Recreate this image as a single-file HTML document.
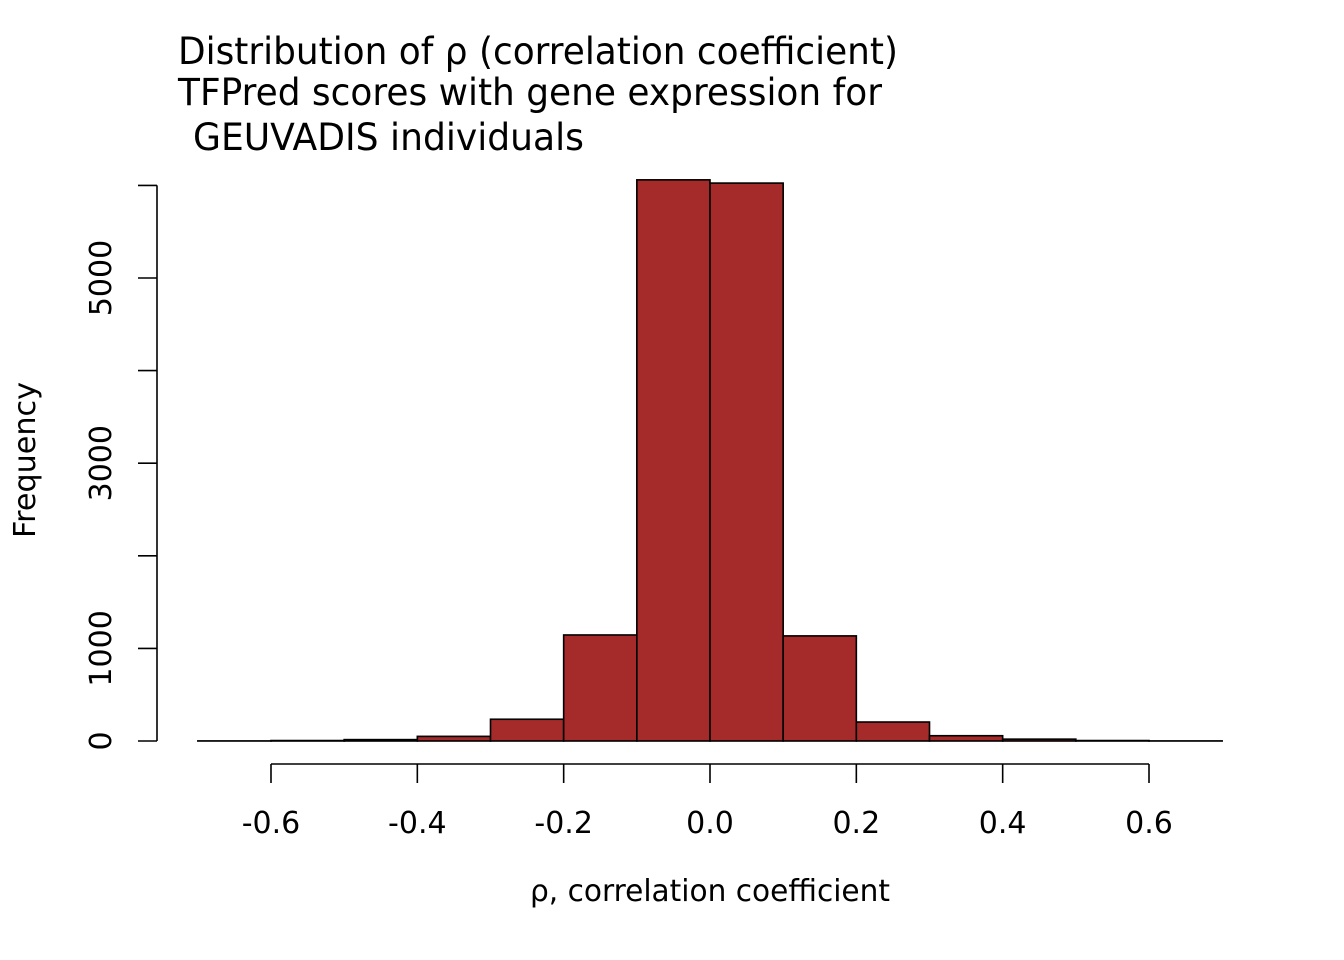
<!DOCTYPE html>
<html><head><meta charset="utf-8"><style>
html,body{margin:0;padding:0;background:#fff;}
svg{display:block;font-family:"DejaVu Sans","Liberation Sans",sans-serif;}
</style></head><body>
<svg id="chart" width="1344" height="960" xmlns="http://www.w3.org/2000/svg">
<g font-size="37" fill="#000">
<text x="178" y="64" textLength="720" lengthAdjust="spacingAndGlyphs">Distribution of ρ (correlation coefficient)</text>
<text x="178" y="105" textLength="704" lengthAdjust="spacingAndGlyphs">TFPred scores with gene expression for</text>
<text x="193" y="150" textLength="391" lengthAdjust="spacingAndGlyphs">GEUVADIS individuals</text>
</g>
<text x="530" y="901" font-size="30" textLength="360" lengthAdjust="spacingAndGlyphs">ρ, correlation coefficient</text>
<text transform="translate(35,460) rotate(-90)" text-anchor="middle" font-size="30" textLength="156" lengthAdjust="spacingAndGlyphs">Frequency</text>
<g id="bars"></g>
<g id="xaxis"></g>
<g id="yaxis"></g>
</svg>
<script>
const binEdges = [-0.7,-0.6,-0.5,-0.4,-0.3,-0.2,-0.1,0.0,0.1,0.2,0.3,0.4,0.5,0.6,0.7];
const counts = [1,5,15,50,235,1145,6060,6025,1135,205,57,20,5,1];
const xTicks = [-0.6,-0.4,-0.2,0.0,0.2,0.4,0.6];
const xTickLabels = ["-0.6","-0.4","-0.2","0.0","0.2","0.4","0.6"];
const yTicks = [0,1000,2000,3000,4000,5000,6000];
const yTickLabels = ["0","1000","","3000","","5000",""];

const NS="http://www.w3.org/2000/svg";
function X(v){return 710 + v*731.67;}
function Y(v){return 741 - v*0.0926;}
function mk(tag,attrs,parent){const e=document.createElementNS(NS,tag);for(const k in attrs)e.setAttribute(k,attrs[k]);parent.appendChild(e);return e;}

const bars=document.getElementById('bars');
counts.forEach((c,i)=>{
  const x0=X(binEdges[i]),x1=X(binEdges[i+1]);
  const r=mk('rect',{x:x0,y:Y(c),width:x1-x0,height:Y(0)-Y(c),fill:'#a52a2a',stroke:'#000','stroke-width':1.6},bars);
  
  
});

const xa=document.getElementById('xaxis');
const xl=mk('line',{x1:X(xTicks[0]),x2:X(xTicks[xTicks.length-1]),y1:764,y2:764,stroke:'#000','stroke-width':1.6},xa);


xTicks.forEach((t,i)=>{
  const tk=mk('line',{x1:X(t),x2:X(t),y1:764,y2:783,stroke:'#000','stroke-width':1.6},xa);
  
  
  const tx=mk('text',{x:X(t),y:833,'text-anchor':'middle','font-size':30},xa);
  tx.textContent=xTickLabels[i];
  
  
});

const ya=document.getElementById('yaxis');
const yl=mk('line',{x1:157,x2:157,y1:Y(yTicks[0]),y2:Y(yTicks[yTicks.length-1]),stroke:'#000','stroke-width':1.6},ya);


yTicks.forEach((t,i)=>{
  const tk=mk('line',{x1:138,x2:157,y1:Y(t),y2:Y(t),stroke:'#000','stroke-width':1.6},ya);
  
  
  if(yTickLabels[i]){
    const tx=mk('text',{transform:'translate(111,'+Y(t)+') rotate(-90)','text-anchor':'middle','font-size':30},ya);
    tx.textContent=yTickLabels[i];
    
    
  }
});
</script>
</body></html>
